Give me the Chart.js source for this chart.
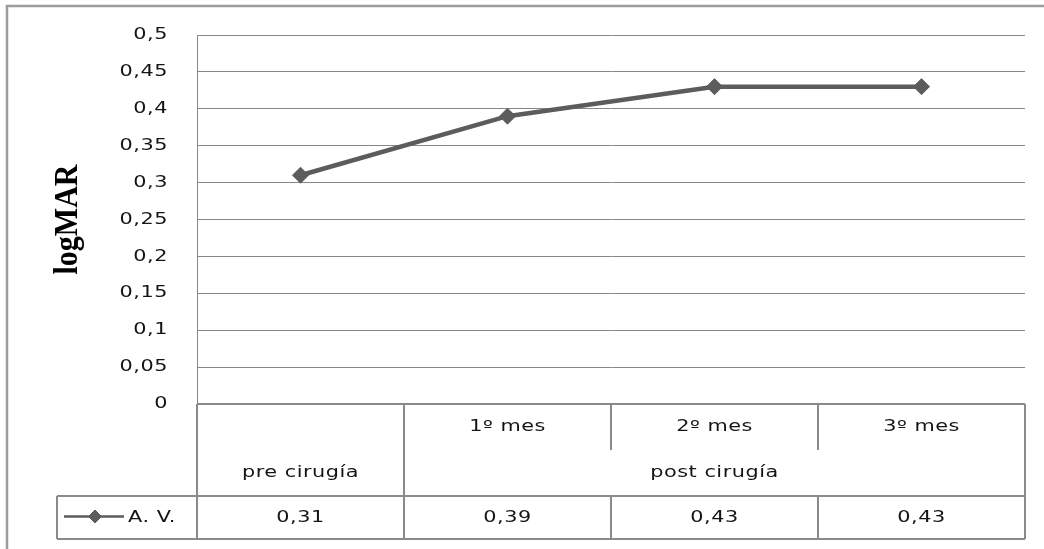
<!DOCTYPE html>
<html>
<head>
<meta charset="utf-8">
<script src="https://cdn.jsdelivr.net/npm/chart.js@4.4.1/dist/chart.umd.min.js"></script>
<style>
  html, body { margin: 0; padding: 0; background: #ffffff; }
  #wrap { width: 1044px; height: 549px; position: relative; }
</style>
</head>
<body>
<div id="wrap"><canvas id="c" width="1044" height="549"></canvas></div>
<script>
// Visual acuity before and after surgery (logMAR)
const periods = ['', '1º mes', '2º mes', '3º mes'];
const phases = ['pre cirugía', 'post cirugía', 'post cirugía', 'post cirugía'];
const seriesName = 'A. V.';
const agudezaVisual = [0.31, 0.39, 0.43, 0.43];
const yMin = 0;
const yMax = 0.5;
const yStep = 0.05;
const axisTitle = 'logMAR';

const TEXT = '#141414';
const GRID = '#878787';
const TABLE = '#8a8a8a';
const FRAME = '#9c9c9c';
const SERIES = '#5c5c5c';
const FONT = '16px "DejaVu Sans", sans-serif';
const STRETCH = 1.3;   // wide lettering

// decimal comma, Excel "general" style
const fmt = v => String(Math.round(v * 100) / 100).replace('.', ',');

function wideText(ctx, s, x, y, align) {
  ctx.save();
  ctx.translate(x, y);
  ctx.scale(STRETCH, 1);
  ctx.font = FONT;
  ctx.fillStyle = TEXT;
  ctx.letterSpacing = '0.4px';
  ctx.textAlign = align;
  ctx.textBaseline = 'middle';
  ctx.fillText(s, 0, 0);
  ctx.restore();
}

// Value axis labels, axis title, data table and legend key
const dataTable = {
  id: 'dataTable',
  afterDraw(chart) {
    const { ctx, chartArea: a, scales: { x, y } } = chart;

    // value axis labels
    y.ticks.forEach(t => wideText(ctx, fmt(t.value), a.left - 29, y.getPixelForValue(t.value), 'right'));

    const n = periods.length;
    const colW = (x.right - x.left) / n;
    const center = i => x.getPixelForValue(i);
    const edge = i => center(i) - colW / 2;
    const r0 = a.bottom, r1 = r0 + 46, r2 = r1 + 46, r3 = r2 + 43;
    const keyLeft = 57;

    ctx.save();
    ctx.strokeStyle = TABLE;
    ctx.lineWidth = 2;
    const line = (x1, y1, x2, y2) => { ctx.beginPath(); ctx.moveTo(x1, y1); ctx.lineTo(x2, y2); ctx.stroke(); };
    line(a.left, r0, a.right, r0);
    line(keyLeft, r2, a.right, r2);
    line(keyLeft, r3, a.right, r3);
    line(a.left, r0, a.left, r3);
    line(a.right, r0, a.right, r3);
    line(keyLeft, r2, keyLeft, r3);
    for (let i = 1; i < n; i++) {
      const bx = edge(i);
      if (phases[i] !== phases[i - 1]) {
        line(bx, r0, bx, r3);
      } else {
        line(bx, r0, bx, r1);
        line(bx, r2, bx, r3);
      }
    }

    periods.forEach((p, i) => { if (p) wideText(ctx, p, center(i), (r0 + r1) / 2, 'center'); });

    // phase groups spanning consecutive columns
    let start = 0;
    for (let i = 1; i <= n; i++) {
      if (i === n || phases[i] !== phases[start]) {
        const cx = (edge(start) + edge(i - 1) + colW) / 2;
        wideText(ctx, phases[start], cx, (r1 + r2) / 2, 'center');
        start = i;
      }
    }

    agudezaVisual.forEach((v, i) => wideText(ctx, fmt(v), center(i), (r2 + r3) / 2, 'center'));

    // legend key
    const ky = (r2 + r3) / 2 - 1;
    ctx.strokeStyle = SERIES;
    ctx.lineWidth = 2.5;
    line(64, ky, 124, ky);
    ctx.fillStyle = SERIES;
    ctx.lineWidth = 1;
    Chart.helpers.drawPoint(ctx, { pointStyle: 'rectRot', radius: 6.5, rotation: 0, borderWidth: 1 }, 95, ky);
    wideText(ctx, seriesName, 128, ky + 1, 'left');

    // axis title
    ctx.translate(77, (a.top + a.bottom) / 2);
    ctx.rotate(-Math.PI / 2);
    ctx.scale(1, 1.15);
    ctx.font = 'bold 30px "Liberation Serif", serif';
    ctx.textAlign = 'center';
    ctx.textBaseline = 'alphabetic';
    ctx.fillStyle = '#000000';
    ctx.fillText(axisTitle, 0, 0);
    ctx.restore();

    // chart frame
    ctx.save();
    ctx.strokeStyle = FRAME;
    ctx.lineWidth = 2.5;
    ctx.beginPath();
    ctx.moveTo(7, 549);
    ctx.lineTo(7, 6);
    ctx.lineTo(1044, 6);
    ctx.stroke();
    ctx.restore();
  }
};

new Chart(document.getElementById('c'), {
  type: 'line',
  data: {
    labels: periods.map((p, i) => p || phases[i]),
    datasets: [{
      label: seriesName,
      data: agudezaVisual,
      borderColor: SERIES,
      backgroundColor: SERIES,
      borderWidth: 4.5,
      pointStyle: 'rectRot',
      pointRadius: 8,
      pointBackgroundColor: SERIES,
      pointBorderColor: SERIES,
      pointBorderWidth: 1,
      tension: 0,
      clip: false
    }]
  },
  options: {
    responsive: false,
    animation: false,
    devicePixelRatio: 1,
    layout: { padding: { top: 35, right: 19, bottom: 145, left: 0 } },
    plugins: { legend: { display: false }, tooltip: { enabled: false } },
    scales: {
      x: { type: 'category', offset: true, display: false },
      y: {
        min: yMin,
        max: yMax,
        afterFit(s) { s.width = 197; },
        border: { display: true, color: GRID, width: 1 },
        grid: { color: GRID, lineWidth: 1, drawTicks: false },
        ticks: { stepSize: yStep, display: false }
      }
    }
  },
  plugins: [dataTable]
});
</script>
</body>
</html>
